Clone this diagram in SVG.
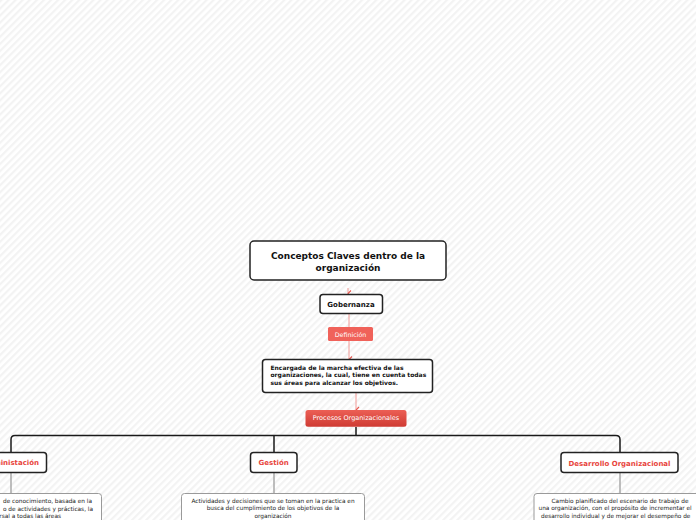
<svg xmlns="http://www.w3.org/2000/svg" width="696" height="520" viewBox="0 0 696 520">
<defs>
<pattern id="stripes" patternUnits="userSpaceOnUse" width="5" height="5" patternTransform="rotate(45)">
<rect width="5" height="5" fill="#ffffff"/>
<rect width="2.2" height="5" fill="#f3f3f3"/>
</pattern>
<linearGradient id="redgrad" x1="0" y1="0" x2="0" y2="1">
<stop offset="0" stop-color="#ec5f55"/>
<stop offset="1" stop-color="#cf3b33"/>
</linearGradient>
<marker id="arr" markerUnits="userSpaceOnUse" markerWidth="8" markerHeight="6" refX="3.5" refY="4" orient="auto-start-reverse" viewBox="0 0 8 6">
<path d="M1,1 L4,4 L7,1" fill="none" stroke="#e8574e" stroke-width="1.1"/>
</marker>
</defs>
<style>
.node{fill:#ffffff;stroke:#222222;stroke-width:1.5}
.desc{fill:#ffffff;stroke:#9a9a9a;stroke-width:1}
.b{font-family:"DejaVu Sans",Verdana,sans-serif;font-weight:bold;fill:#111111}
.r{font-family:"DejaVu Sans",Verdana,sans-serif;font-weight:bold;fill:#e8453d;font-size:7px}
.n{font-family:"DejaVu Sans",Verdana,sans-serif;fill:#222222;font-size:5.8px}
.w{font-family:"DejaVu Sans",Verdana,sans-serif;fill:#ffffff}
.pink{stroke:#f29a96;stroke-width:1;fill:none}
.tree{stroke:#1a1a1a;stroke-width:1.5;fill:none}
.gray{stroke:#a8a8a8;stroke-width:1.5;fill:none}
</style>
<rect width="696" height="520" fill="url(#stripes)"/>

<g id="connectors">
<line class="pink" x1="348" y1="288" x2="348" y2="293" marker-end="url(#arr)"/>
<line class="pink" x1="349" y1="314" x2="349" y2="327"/>
<line class="pink" x1="349" y1="341" x2="349" y2="359" marker-end="url(#arr)"/>
<line class="pink" x1="356" y1="393" x2="356" y2="409.5" marker-end="url(#arr)"/>
<path class="tree" d="M356,427 V435.5 M356,435.5 H15 Q11,435.5 11,439.5 V452 M356,435.5 H616 Q620,435.5 620,439.5 V452 M274,435.5 V452"/>
<line class="gray" x1="11" y1="473" x2="11" y2="493"/>
<line class="gray" x1="274" y1="473" x2="274" y2="493"/>
<line class="gray" x1="620" y1="473" x2="620" y2="493"/>
</g>

<g id="title">
<rect class="node" x="250" y="241" width="196" height="39" rx="4"/>
<text class="b" font-size="9" text-anchor="middle" x="348" y="259">Conceptos Claves dentro de la</text>
<text class="b" font-size="9" text-anchor="middle" x="348" y="271">organización</text>
</g>

<g id="gobernanza">
<rect class="node" x="320" y="294.5" width="62.5" height="19" rx="3"/>
<text class="b" font-size="7" text-anchor="middle" x="351" y="307">Gobernanza</text>
</g>

<g id="definicion">
<rect x="328" y="327" width="45" height="14" rx="1.5" fill="#f0625a"/>
<text class="w" font-size="6.3" text-anchor="middle" x="350.5" y="336.5">Definición</text>
</g>

<g id="descripcion">
<rect class="node" x="262.5" y="359.5" width="170" height="33" rx="3"/>
<text class="b" font-size="6" x="270.5" y="370">Encargada de la marcha efectiva de las</text>
<text class="b" font-size="6" x="270.5" y="377.3">organizaciones, la cual, tiene en cuenta todas</text>
<text class="b" font-size="6" x="270.5" y="384.5">sus áreas para alcanzar los objetivos.</text>
</g>

<g id="procesos">
<rect x="305.5" y="410" width="101" height="16.7" rx="2.5" fill="url(#redgrad)"/>
<text class="w" font-size="6.5" text-anchor="middle" x="356" y="420.3">Procesos Organizacionales</text>
</g>

<g id="administracion">
<rect class="node" x="-24" y="452.5" width="70.5" height="20" rx="3"/>
<text class="r" text-anchor="middle" x="11" y="465.3">Administación</text>
</g>

<g id="gestion">
<rect class="node" x="250.5" y="452.5" width="46.5" height="20" rx="3"/>
<text class="r" text-anchor="middle" x="273.7" y="465.3">Gestión</text>
</g>

<g id="desarrollo">
<rect class="node" x="561" y="452.5" width="117" height="20" rx="3"/>
<text class="r" text-anchor="middle" x="619.5" y="465.5">Desarrollo Organizacional</text>
</g>

<g id="admin-desc">
<rect class="desc" x="-80" y="493.5" width="181.5" height="40" rx="3"/>
<text class="n" text-anchor="end" x="92" y="502.7">de conocimiento, basada en la</text>
<text class="n" text-anchor="end" x="93" y="510.5">o de actividades y prácticas, la</text>
<text class="n" text-anchor="end" x="61" y="518">rsal a todas las áreas</text>
</g>

<g id="gestion-desc">
<rect class="desc" x="181.5" y="493.5" width="183" height="40" rx="3"/>
<text class="n" text-anchor="middle" x="273" y="502.6">Actividades y decisiones que se toman en la practica en</text>
<text class="n" text-anchor="middle" x="273" y="510.4">busca del cumplimiento de los objetivos de la</text>
<text class="n" text-anchor="middle" x="273" y="518">organización</text>
</g>

<g id="desarrollo-desc">
<rect class="desc" x="534" y="493.5" width="190" height="40" rx="3"/>
<text class="n" text-anchor="middle" x="620" y="502.6">Cambio planificado del escenario de trabajo de</text>
<text class="n" x="538.5" y="510.4">una organización, con el propósito de incrementar el</text>
<text class="n" x="541" y="518">desarrollo individual y de mejorar el desempeño de</text>
</g>
</svg>
